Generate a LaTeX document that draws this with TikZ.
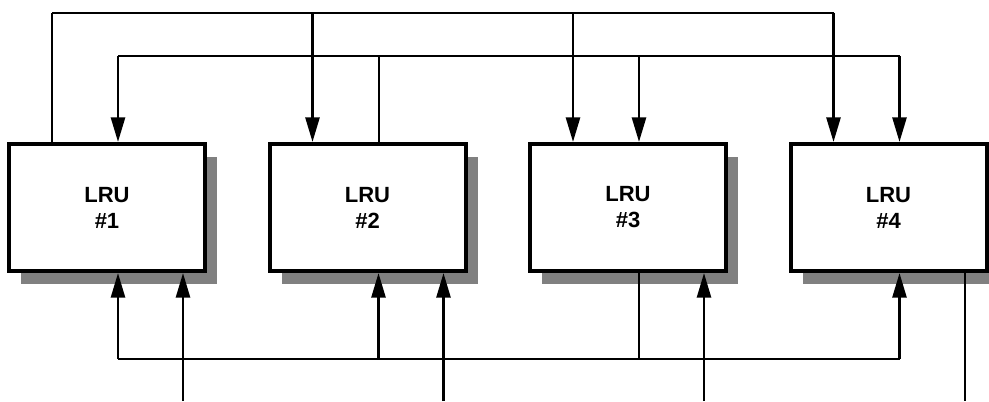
\documentclass[tikz,border=0pt]{standalone}
\usepackage{fontspec}
\setmainfont{Liberation Sans}
\usetikzlibrary{calc,arrows.meta,shadows}
\definecolor{shadowgray}{RGB}{128,128,128}
\begin{document}
\begin{tikzpicture}[x=0.75pt,y=-0.75pt,
  lru/.style={draw=black, line width=3pt, fill=white, rectangle,
    minimum width=147pt, minimum height=95.25pt, inner sep=0pt,
    align=center, font=\bfseries\fontsize{16.5pt}{19.5pt}\selectfont,
    drop shadow={shadow xshift=9pt, shadow yshift=-10pt, fill=shadowgray, opacity=1}},
  bus/.style={line width=1.3pt},
  src/.style={line width=1.5pt},
  arr/.style={line width=2pt, -{Triangle[length=18.5pt,width=10.5pt]}}
]
\useasboundingbox (0,0) rectangle (989,401);
\node[lru] (b1) at (107,207.5) {LRU\\\#1};
\node[lru] (b2) at (367.5,207.5) {LRU\\\#2};
\node[lru] (b3) at (628,207.5) {LRU\\\#3};
\node[lru] (b4) at (888.5,207.5) {LRU\\\#4};
% bus levels
\coordinate (ob) at (0,12.7);
\coordinate (ib) at (0,56);
\coordinate (bb) at (0,359);
\coordinate (bot) at (0,401);
% ports
\foreach \i in {1,2,3,4}{
  \coordinate (t\i a) at ($(b\i.north)+(-55,0)$);
  \coordinate (t\i b) at ($(b\i.north)+(11,0)$);
  \coordinate (u\i b) at ($(b\i.south)+(11,0)$);
  \coordinate (u\i c) at ($(b\i.south)+(76,0)$);
}
% outer top bus: LRU #1 -> #2, #3, #4
\draw[src] (t1a) -- (t1a |- ob);
\draw[bus] (t1a |- ob) -- (t4a |- ob);
\draw[arr] (t2a |- ob) -- (t2a);
\draw[arr] (t3a |- ob) -- (t3a);
\draw[arr] (t4a |- ob) -- (t4a);
% inner top bus: LRU #2 -> #1, #3, #4
\draw[src] (t2b) -- (t2b |- ib);
\draw[bus] (t1b |- ib) -- (t4b |- ib);
\draw[arr] (t1b |- ib) -- (t1b);
\draw[arr] (t3b |- ib) -- (t3b);
\draw[arr] (t4b |- ib) -- (t4b);
% bottom bus: LRU #3 -> #1, #2, #4
\draw[src] (u3b) -- (u3b |- bb);
\draw[bus] (u1b |- bb) -- (u4b |- bb);
\draw[arr] (u1b |- bb) -- (u1b);
\draw[arr] (u2b |- bb) -- (u2b);
\draw[arr] (u4b |- bb) -- (u4b);
% external inputs / output
\draw[arr] (u1c |- bot) -- (u1c);
\draw[arr] (u2c |- bot) -- (u2c);
\draw[arr] (u3c |- bot) -- (u3c);
\draw[src] (u4c) -- (u4c |- bot);
\end{tikzpicture}
\end{document}
